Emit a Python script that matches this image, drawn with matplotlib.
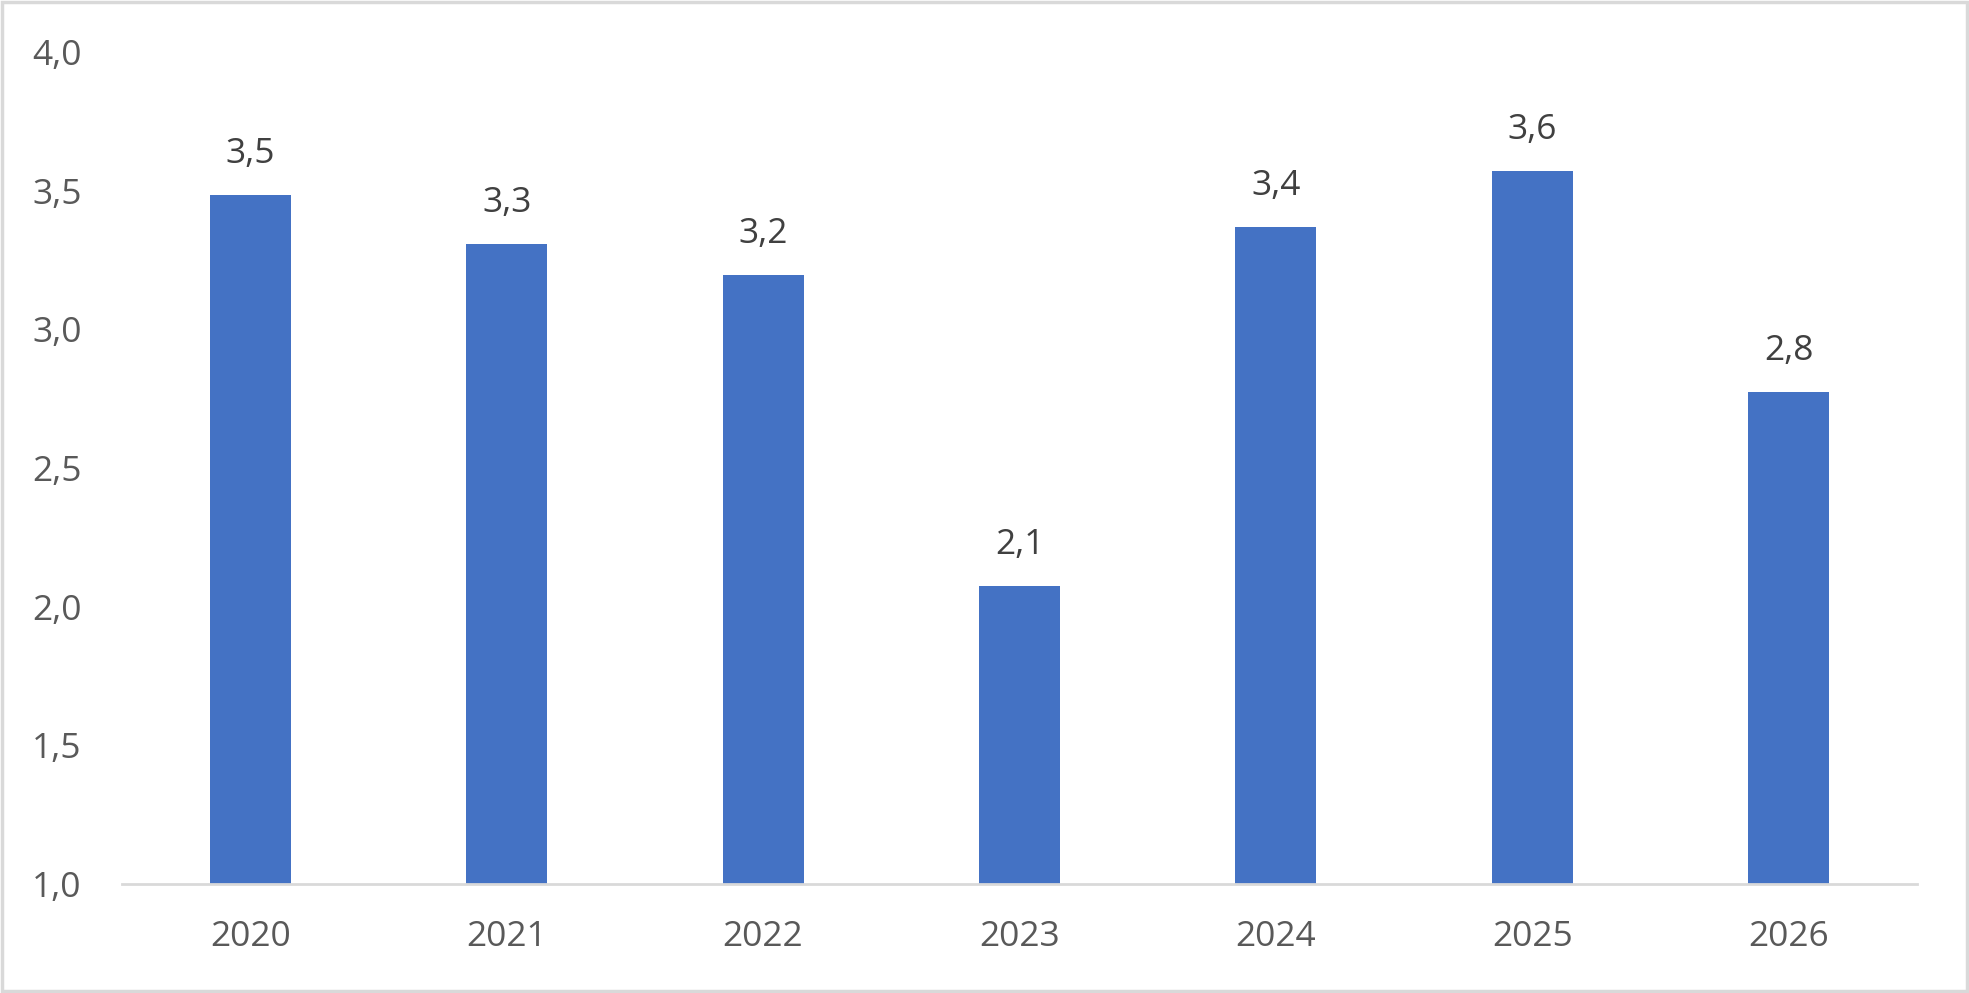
import numpy as np
import matplotlib
matplotlib.use("Agg")
import matplotlib.pyplot as plt
from matplotlib.patches import Rectangle

# data
years = ["2020", "2021", "2022", "2023", "2024", "2025", "2026"]
values = [3.485, 3.308, 3.196, 2.075, 3.369, 3.571, 2.774]
yticks = [1.0, 1.5, 2.0, 2.5, 3.0, 3.5, 4.0]

plt.rcParams['font.family'] = ['Open Sans', 'DejaVu Sans']

fig = plt.figure(figsize=(19.69, 9.93), dpi=100)
ax = fig.add_axes([0.062, 0.1098, 0.9115, 0.8378])

x = np.arange(len(years))
bars = ax.bar(x, np.array(values) - 1.0, bottom=1.0, width=0.316,
              color="#4472C4", linewidth=0, zorder=2)

# data labels, one decimal with comma
for xi, v in zip(x, values):
    ax.annotate(f"{v:.1f}".replace(".", ","), (xi, v), xytext=(0, 17),
                textcoords="offset points", ha="center", va="bottom",
                fontsize=25.5, color="#404040")

ax.set_xlim(-0.5, len(years) - 0.5)
ax.set_ylim(1.0, 4.0)
ax.set_xticks(x)
ax.set_xticklabels(years)
ax.set_yticks(yticks)
ax.set_yticklabels([f"{t:.1f}".replace(".", ",") for t in yticks])
ax.tick_params(axis="both", length=0, labelsize=25.5, colors="#595959")
ax.tick_params(axis="x", pad=26)
ax.tick_params(axis="y", pad=29)

for s in ["top", "right", "left"]:
    ax.spines[s].set_visible(False)
ax.spines["bottom"].set_color("#d9d9d9")
ax.spines["bottom"].set_linewidth(2)

# gray frame around the whole chart
fig.patches.append(Rectangle((0.001, 0.002), 0.998, 0.996, transform=fig.transFigure,
                             fill=False, edgecolor="#d9d9d9", linewidth=2.5))

fig.savefig("out.png", dpi=100)
